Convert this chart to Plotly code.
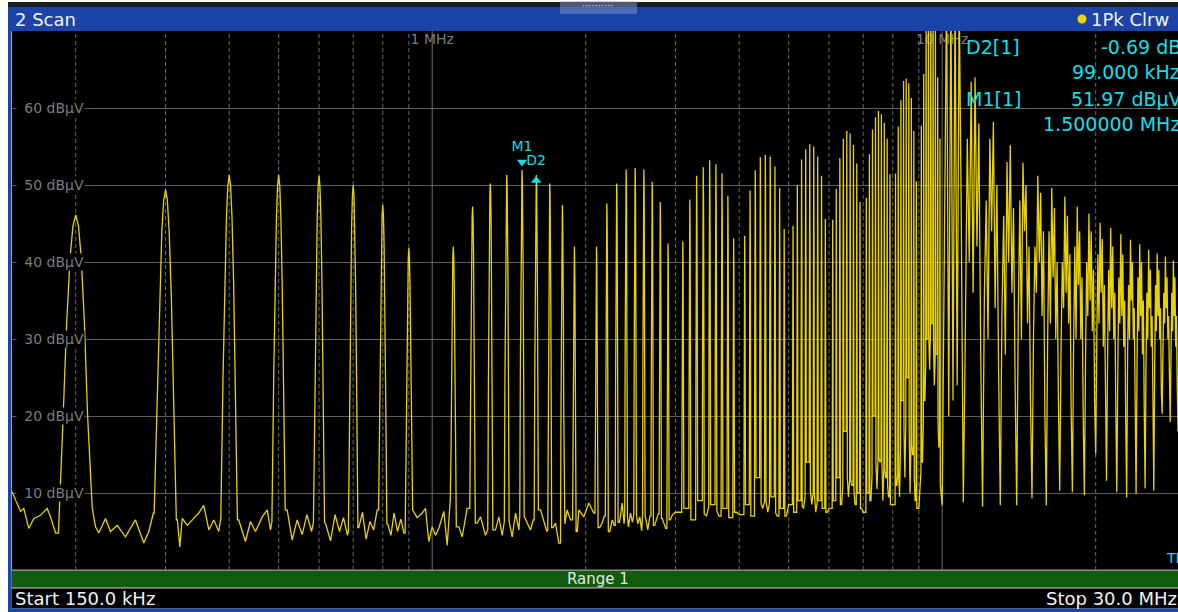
import bisect
import math
import plotly.graph_objects as go

# ---------------- values ----------------
start_MHz = 0.15
view_stop_MHz = 29.0          # right edge of the visible (cropped) screen
level_min_dB, level_max_dB = 0, 70
level_grid_dB = [10, 20, 30, 40, 50, 60]
level_labels = ["10 dBμV", "20 dBμV", "30 dBμV", "40 dBμV", "50 dBμV", "60 dBμV"]
grid_major_MHz = [1, 10]
grid_minor_MHz = [0.2, 0.3, 0.4, 0.5, 0.6, 0.7, 0.8, 0.9, 2, 3, 4, 5, 6, 7, 8, 9, 20]
freq_label_MHz = [1, 10]
freq_labels = ["1 MHz", "10 MHz"]
freq_label_level = 68.8

fundamental_MHz = 0.1
# peak levels of harmonics g.1 ... g.9 MHz for each 1-MHz group g = 0..9
harmonic_dB = [
    [None, 46.1, 49.4, 51.3, 51.3, 51.2, 50.0, 47.4, 41.8],
    [42.0, 47.2, 50.2, 51.3, 51.97, 51.3, 50.2, 47.4, 42.0],
    [42.0, 47.6, 50.2, 52.0, 52.2, 52.0, 50.4, 47.8, 42.4],
    [42.7, 48.1, 51.2, 52.3, 53.2, 52.7, 51.5, 48.6, 43.1],
    [43.4, 49.3, 51.9, 53.6, 53.9, 53.7, 52.4, 49.6, 44.3],
    [44.7, 50.0, 53.3, 54.6, 55.3, 55.0, 53.7, 51.2, 45.6],
    [45.5, 49.5, 53.5, 56.0, 57.0, 56.7, 55.2, 52.8, 47.8],
    [48.3, 54.0, 57.2, 58.8, 59.6, 59.2, 58.1, 56.0, 51.4],
    [51.5, 57.6, 61.0, 63.5, 63.8, 63.2, 61.3, 57.0, 50.5],
    [57.7, 64.4, 72.0, 75.0, 76.0, 75.0, 72.0, 64.0, 56.0],
]
# trough levels between harmonics, groups 3..9 (at g.0, g.15, g.25 ... g.95 MHz)
trough_dB = [
    [7.5, 8.0, 6.5, 9.0, 7.0, 8.5, 7.0, 8.0, 6.8, 7.5],
    [7.2, 8.5, 7.0, 12.0, 8.0, 7.5, 9.5, 7.0, 8.0, 7.0],
    [8.5, 7.5, 9.0, 8.0, 14.0, 8.5, 7.5, 9.0, 8.0, 7.5],
    [8.0, 9.0, 12.0, 8.5, 18.0, 9.5, 11.0, 8.5, 10.0, 8.0],
    [7.5, 10.0, 9.0, 20.0, 10.5, 14.0, 9.0, 12.0, 9.5, 8.5],
    [8.5, 11.0, 9.5, 22.0, 12.0, 25.0, 10.0, 15.0, 9.0, 8.0],
    [8.0, 14.0, 22.0, 30.0, 26.0, 32.0, 24.0, 28.0, 16.0, 10.0],
]
# noise floor below 3 MHz
noise_MHz = [0.150, 0.1536, 0.1559, 0.1582, 0.1618, 0.1655, 0.1706, 0.1758, 0.1785, 0.1826,
             0.2155, 0.2187, 0.2220, 0.2288, 0.2340, 0.2412, 0.2503, 0.2619, 0.2720, 0.2782, 0.2840,
             0.3165, 0.3200, 0.3235, 0.3309, 0.3407, 0.3485, 0.3565, 0.3648, 0.3731, 0.3816, 0.3845,
             0.4175, 0.4304, 0.4402, 0.4503, 0.4642, 0.4748, 0.4819,
             0.5195, 0.5314, 0.5435, 0.556, 0.568, 0.580,
             0.618, 0.632, 0.645, 0.658, 0.670, 0.682,
             0.718, 0.730, 0.742, 0.755, 0.768, 0.780,
             0.818, 0.830, 0.842, 0.855, 0.868, 0.880,
             0.9155, 0.9345, 0.9559, 0.9702, 0.9847, 1.000, 1.015, 1.030, 1.054, 1.070, 1.083,
             1.128, 1.145, 1.171, 1.225, 1.244, 1.272, 1.331, 1.351, 1.372,
             1.435, 1.457, 1.479, 1.536, 1.558, 1.578, 1.631, 1.655, 1.678,
             1.725, 1.745, 1.771, 1.820, 1.839, 1.867, 1.925, 1.939, 1.983, 2.028, 2.074,
             2.130, 2.154, 2.175, 2.230, 2.254, 2.275, 2.330, 2.358, 2.378,
             2.425, 2.448, 2.470, 2.530, 2.553, 2.575, 2.625, 2.647, 2.672,
             2.730, 2.749, 2.775, 2.825, 2.846, 2.870, 2.930, 2.960]
noise_dB = [10.2, 8.7, 7.6, 8.0, 5.4, 6.7, 7.1, 8.0, 6.9, 4.8,
            8.0, 5.6, 4.8, 6.7, 5.0, 5.8, 4.3, 6.5, 3.5, 5.0, 7.4,
            6.5, 3.0, 6.7, 5.8, 6.7, 7.4, 8.4, 5.2, 6.5, 5.0, 6.5,
            6.5, 3.7, 6.3, 5.0, 6.9, 7.8, 5.2,
            7.8, 3.9, 6.5, 4.6, 7.2, 5.0,
            6.0, 3.8, 7.2, 5.0, 6.8, 4.5,
            5.5, 7.5, 4.0, 6.3, 5.2, 7.8,
            6.0, 4.5, 7.4, 5.0, 6.6, 4.8,
            7.8, 6.8, 7.4, 8.0, 3.7, 5.6, 4.5, 5.4, 7.6, 3.2, 9.1,
            5.6, 4.3, 8.0, 6.1, 6.9, 4.5, 5.2, 6.9, 4.5,
            4.3, 7.4, 5.2, 6.1, 5.2, 6.5, 7.8, 6.3, 5.0,
            5.5, 6.1, 3.5, 6.0, 7.8, 6.5, 5.0, 7.8, 6.9, 8.7, 7.4,
            5.5, 6.1, 7.0, 5.0, 6.5, 5.8, 6.2, 8.7, 6.0,
            5.6, 7.4, 6.2, 6.0, 6.9, 5.1, 6.6, 5.2, 7.0,
            5.8, 6.5, 7.3, 6.7, 6.1, 5.4, 6.5, 7.2]
# displayed trace above 10 MHz, groups 10..29 (at g.0, g.1 ... g.9 MHz)
hf_dB = [
    [8.4, 42, 75, 20, 76, 22, 75, 24, 74, 46],
    [8.8, 30, 56, 40, 63.4, 36, 64, 42, 58, 28],
    [8.2, 36, 48, 30, 56, 44, 58.2, 34, 50, 26],
    [8.4, 34, 46, 28, 53, 40, 55.2, 36, 47, 24],
    [8.4, 33, 48, 30, 52.9, 44, 50, 32, 42, 22],
    [9.3, 30, 42, 36, 51.2, 40, 49, 33, 44, 20],
    [8.4, 30, 44, 32, 49.6, 38, 47, 30, 40, 22],
    [10.3, 28, 40, 34, 48.5, 36, 46, 32, 41, 21],
    [10.1, 29, 42, 30, 47.2, 37, 44, 30, 38, 20],
    [9.7, 27, 40, 33, 46.3, 35, 44, 31, 39, 22],
    [15.1, 30, 41, 32, 45.1, 36, 43, 29, 37, 24],
    [11.6, 27, 39, 31, 44.4, 34, 42, 30, 36, 21],
    [10.1, 26, 38, 32, 43.6, 33, 41, 29, 35, 20],
    [9.4, 28, 37, 30, 42.9, 35, 40, 30, 34, 22],
    [9.9, 26, 38, 31, 42.3, 33, 40, 28, 35, 21],
    [10.6, 27, 36, 30, 41.6, 34, 39, 29, 33, 22],
    [10.3, 26, 37, 31, 41.1, 33, 39, 30, 34, 23],
    [20.3, 29, 36, 32, 40.7, 34, 38, 30, 33, 25],
    [19.2, 28, 36, 31, 40.2, 33, 38, 29, 33, 24],
    [18.0, 28, 35, 30, 39.8, 33, 37, 29, 32, 24],
]
trace_end = (30.0, 18.0)
# resolution-filter shape of a single line
peak_offset_kHz = [-15, -11, -8, -5, -2.5, 0, 2.5, 5, 8, 11, 15]
peak_drop_dB = [-45, -26, -14, -5.5, -1.4, 0, -1.4, -5.5, -14, -26, -45]

# markers
m1_MHz, m1_dB = 1.5, 51.97
d2_MHz, d2_dB = 1.599, 51.28
marker_panel = [("D2[1]", "-0.69 dB", "99.000 kHz"), ("M1[1]", "51.97 dBμV", "1.500000 MHz")]

# ---------------- build the trace polyline ----------------
verts = list(zip(noise_MHz, noise_dB))
for g, row in enumerate(harmonic_dB):
    for j, L in enumerate(row, start=1):
        if L is None:
            continue
        fp = g + j * fundamental_MHz
        if g < 3:
            i = bisect.bisect_left(noise_MHz, fp)
            lc, rc = noise_dB[i - 1], noise_dB[i]
        else:
            tr = trough_dB[g - 3]
            lc, rc = tr[j - 1], tr[j]
        for off, drop in zip(peak_offset_kHz, peak_drop_dB):
            lvl = L + drop
            if off < 0:
                lvl = max(lvl, lc)
            elif off > 0:
                lvl = max(lvl, rc)
            verts.append((fp + off / 1000.0, lvl))
    if g >= 3:
        tr = trough_dB[g - 3]
        verts.append((float(g), tr[0]))
        for j in range(1, 10):
            verts.append((g + (j + 0.5) * fundamental_MHz, tr[j]))
for k, row in enumerate(hf_dB):
    g = 10 + k
    for j, lvl in enumerate(row):
        verts.append((g + j * fundamental_MHz, lvl))
verts.append(trace_end)
verts.sort()
trace_f = [v[0] for v in verts]
trace_l = [v[1] for v in verts]

# ---------------- figure ----------------
W, H = 1178, 612
ML, MT, MB = 12, 31, 42
PW, PH = W - ML, H - MT - MB


def px_x(p):
    return (p - ML) / PW


def px_y(p):
    return (H - MB - p) / PH


fig = go.Figure()


def vlines(vals):
    xs, ys = [], []
    for v in vals:
        xs += [v, v, None]
        ys += [level_min_dB, level_max_dB, None]
    return xs, ys


xs, ys = vlines(grid_minor_MHz)
fig.add_trace(go.Scatter(x=xs, y=ys, mode="lines", hoverinfo="skip",
                         line=dict(color="#6a6a6a", width=1, dash="4px,3px")))
xs, ys = vlines(grid_major_MHz)
fig.add_trace(go.Scatter(x=xs, y=ys, mode="lines", hoverinfo="skip",
                         line=dict(color="#6e6e6e", width=1)))
fig.add_trace(go.Scatter(x=freq_label_MHz, y=[freq_label_level] * len(freq_label_MHz),
                         mode="text", text=freq_labels, hoverinfo="skip",
                         textfont=dict(family="DejaVu Sans", size=14, color="#7c7c7c")))
fig.add_trace(go.Scatter(x=trace_f, y=trace_l, mode="lines", hoverinfo="skip",
                         line=dict(color="#e8d200", width=1.3)))
# markers
fig.add_trace(go.Scatter(x=[m1_MHz], y=[53.0], mode="markers", hoverinfo="skip",
                         marker=dict(symbol="triangle-down", size=9, color="#12dfe6")))
fig.add_trace(go.Scatter(x=[d2_MHz], y=[50.6], mode="markers", hoverinfo="skip",
                         marker=dict(symbol="triangle-up", size=9, color="#12dfe6")))
fig.add_trace(go.Scatter(x=[m1_MHz, d2_MHz], y=[54.9, 53.0], mode="text", text=["M1", "D2"],
                         hoverinfo="skip",
                         textfont=dict(family="DejaVu Sans", size=14, color="#12dfe6")))

shapes = []


def rect(x0, y0, x1, y1, color, layer="above", opacity=1.0):
    shapes.append(dict(type="rect", xref="paper", yref="paper",
                       x0=px_x(x0), x1=px_x(x1), y0=px_y(y1), y1=px_y(y0),
                       fillcolor=color, line=dict(width=0), layer=layer, opacity=opacity))


BLUE = "#1b44a6"
rect(8, 2, 1178, 7, "#1e1e1e")
rect(8, 7, 1178, 31, BLUE)
rect(560, 1, 637, 14, "#8aa0d6", opacity=0.45)
rect(8, 7, 11.5, 612, BLUE)
rect(11.5, 569.5, 1178, 571, "#8c8c8c")
rect(11.5, 571, 1178, 587, "#125a0c")
rect(11.5, 587, 1178, 588.5, "#8c8c8c")
rect(11.5, 588.5, 1178, 608.5, "#000000")
rect(8, 608.5, 1178, 612, BLUE)
shapes.append(dict(type="circle", xref="paper", yref="paper",
                   x0=px_x(1077.5), x1=px_x(1086.5), y0=px_y(23.5), y1=px_y(14.5),
                   fillcolor="#f2d500", line=dict(width=0)))

ann = []


def text(t, x, y, anchor="left", size=18, color="#f2f2f2", bg=None, **kw):
    d = dict(text=t, xref="paper", yref="paper", x=px_x(x), y=px_y(y),
             xanchor=anchor, yanchor="middle", showarrow=False,
             font=dict(family="DejaVu Sans", size=size, color=color), borderpad=0)
    if bg:
        d["bgcolor"] = bg
    d.update(kw)
    ann.append(d)


text("2 Scan", 14, 19.5)
text("1Pk Clrw", 1090, 19.5)
text("··········", 598, 5, anchor="center", size=10, color="#d0d8f0")
CY = "#12dfe6"
(n1, v1, f1), (n2, v2, f2) = marker_panel
text(n1, 965, 47, size=19, color=CY)
text(v1, 1182, 47, anchor="right", size=19, color=CY)
text(f1, 1181, 72, anchor="right", size=19, color=CY)
text(n2, 965, 99, size=19, color=CY)
text(v2, 1183, 99, anchor="right", size=19, color=CY)
text(f2, 1181, 124, anchor="right", size=19, color=CY)
text("TF", 1165, 558, size=14, color=CY)
text("Range 1", 598, 579, anchor="center", size=15, color="#e6e6e6")
text("Start 150.0 kHz", 14, 598.5, size=18)
text("Stop 30.0 MHz", 1178, 598.5, anchor="right", size=18)
for lv, lab in zip(level_grid_dB, level_labels):
    ann.append(dict(text=lab, xref="paper", yref="y", x=px_x(16), y=lv,
                    xanchor="left", yanchor="middle", showarrow=False, width=67, align="right",
                    bgcolor="#000000", borderpad=0,
                    font=dict(family="DejaVu Sans", size=14, color="#7c7c7c")))

fig.update_layout(
    width=W, height=H, margin=dict(l=ML, r=0, t=MT, b=MB, pad=0),
    paper_bgcolor="#ffffff", plot_bgcolor="#000000", showlegend=False,
    xaxis=dict(type="log", range=[math.log10(start_MHz), math.log10(view_stop_MHz)],
               showgrid=False, zeroline=False, showticklabels=False, ticks="", showline=False),
    yaxis=dict(range=[level_min_dB, level_max_dB], tick0=0, dtick=10, showgrid=True,
               gridcolor="#5c5c5c", gridwidth=1, zeroline=False, showticklabels=False,
               ticks="", showline=False),
    shapes=shapes, annotations=ann,
)

fig.write_html("out.html", config={"displayModeBar": False},
               post_script="document.body.style.margin='0';document.body.style.overflow='hidden';")
